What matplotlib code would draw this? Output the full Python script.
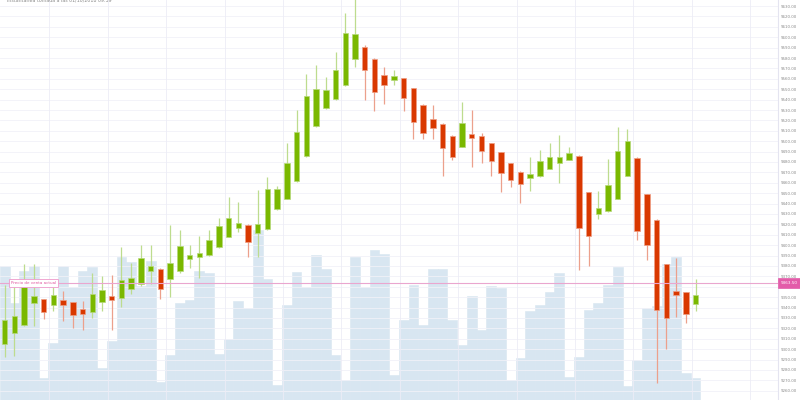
import numpy as np
import matplotlib.pyplot as plt

# velas (OHLC), una por columna
opens = [9305, 9316, 9323, 9344, 9348, 9342, 9347, 9345, 9338.5, 9336,
         9345, 9351, 9349, 9357.5, 9363, 9375.5, 9377.5, 9367.5, 9375.5, 9387,
         9389, 9390.5, 9398, 9408, 9417, 9419.5, 9411.5, 9416, 9435, 9444.5,
         9462, 9486, 9514.5, 9532, 9541, 9554, 9579, 9591, 9579.5, 9563.5,
         9558.5, 9560.5, 9551, 9535, 9521.5, 9517, 9505, 9494.5, 9506.5, 9505,
         9498, 9489.5, 9479, 9470.5, 9465, 9466.5, 9473.5, 9479, 9482, 9486,
         9451, 9430, 9432.5, 9444.5, 9467, 9484, 9449, 9424.5, 9381.5, 9356,
         9354.5, 9343.5]
highs = [9362, 9366, 9382, 9382, 9348.5, 9359.5, 9356, 9345.5, 9346, 9373.5,
         9370, 9371.5, 9398.5, 9383, 9400, 9400, 9378, 9419.5, 9414.5, 9400,
         9409, 9414.5, 9426.5, 9446, 9442, 9420, 9453.5, 9466, 9457, 9498,
         9530, 9564.5, 9573.5, 9561.5, 9586, 9623.5, 9640, 9592.5, 9580, 9571,
         9568, 9561, 9551.5, 9535.5, 9535, 9517.5, 9505.5, 9537.5, 9530, 9508,
         9498.5, 9490, 9479.5, 9471, 9484.5, 9491.5, 9498, 9506, 9494.5, 9486.5,
         9451.5, 9452.5, 9483, 9514, 9512, 9484.5, 9449.5, 9425, 9382, 9387.5,
         9355, 9367.5]
lows = [9292, 9293, 9322, 9322, 9329, 9337, 9327, 9320, 9318, 9330,
        9337, 9318.5, 9341, 9353, 9361, 9363, 9348, 9350.5, 9373, 9378,
        9368.5, 9390, 9397, 9407.5, 9413, 9389, 9389, 9415, 9434, 9444,
        9461, 9485, 9514, 9531, 9540, 9553, 9571.5, 9539.5, 9529.5, 9536,
        9554, 9529.5, 9502.5, 9502.5, 9502.5, 9467, 9482, 9494, 9475.5, 9479.5,
        9467, 9451.5, 9455.5, 9441, 9452.5, 9466, 9473, 9459.5, 9482, 9376,
        9380, 9425, 9432, 9444, 9466.5, 9405, 9385.5, 9267.5, 9300.5, 9331,
        9325, 9337]
closes = [9328, 9332, 9360, 9351, 9336, 9352, 9342.5, 9332.5, 9333.5, 9353.5,
          9357, 9347.5, 9366.5, 9368.5, 9387.5, 9380, 9358, 9383, 9399, 9390.5,
          9392.5, 9404.5, 9418, 9426, 9421.5, 9403, 9420.5, 9454.5, 9454.5, 9479.5,
          9509, 9543, 9550, 9549, 9568.5, 9604, 9603, 9568, 9547.5, 9554,
          9562.5, 9542, 9518, 9507.5, 9512.5, 9493, 9485, 9517.5, 9503, 9490.5,
          9480.5, 9469, 9462.5, 9459, 9468.5, 9480.5, 9485, 9485, 9488.5, 9416.5,
          9409, 9435.5, 9457.5, 9490.5, 9500, 9413.5, 9400, 9337.5, 9330, 9352.5,
          9333.5, 9352]
volume = [134, 97, 129, 134, 22, 57, 134, 113, 129, 133,
          32, 59, 143, 138, 114, 139, 18, 45, 97, 100,
          129, 127, 46, 61, 99, 92, 170, 121, 15, 95,
          128, 113, 145, 131, 45, 20, 143, 113, 150, 146,
          25, 80, 115, 75, 131, 131, 80, 55, 104, 70,
          114, 112, 20, 42, 89, 95, 108, 127, 23, 43,
          90, 97, 115, 133, 14, 40, 92, 94, 136, 143,
          27, 22]
precio_actual = 9363.50
titulo = "Instantánea tomada a las 01/10/2018 09:39"

verde, rojo = "#7ab800", "#d93800"
verde_mecha, rojo_mecha = "#bddc8e", "#eca08c"

o = np.array(opens); c = np.array(closes)
h = np.array(highs); l = np.array(lows)
x = np.arange(len(o))
sube = c >= o

fig = plt.figure(figsize=(8, 4), dpi=100)
ax_vol = fig.add_axes([0, 0, 778 / 800, 1])
ax = ax_vol.twinx()

# volumen de fondo
ax_vol.bar(x, volume, width=1.0, color="#d8e6f1", edgecolor="#d8e6f1", linewidth=0.4)
ax_vol.set_ylim(0, 400)
ax_vol.set_yticks([])
ax_vol.set_xticks([])
for s in ax_vol.spines.values():
    s.set_visible(False)

# rejilla
ax.set_axisbelow(True)
ax.set_yticks(np.arange(9250, 9640, 10))
ax.grid(axis="y", color="#f1f1f8", lw=0.6)
for gx in np.arange(4.6, 80, 6):
    ax.axvline(gx, color="#ececf6", lw=0.6, zorder=0.6)

# velas
ax.vlines(x[sube], l[sube], h[sube], color=verde_mecha, lw=0.9, zorder=2)
ax.vlines(x[~sube], l[~sube], h[~sube], color=rojo_mecha, lw=0.9, zorder=2)
cuerpo = np.maximum(np.abs(c - o), 0.8)
ax.bar(x[sube], cuerpo[sube], bottom=o[sube], width=0.56, color=verde,
       edgecolor="#b5d97a", lw=0.5, zorder=3)
ax.bar(x[~sube], cuerpo[~sube], bottom=c[~sube], width=0.56, color=rojo,
       edgecolor="#ee9f85", lw=0.5, zorder=3)

# precio actual
ax.axhline(precio_actual, color="#eaa6cf", lw=0.8, zorder=4)
ax.text(6.5 / 9.73, precio_actual, "Precio de venta actual", fontsize=2.9,
        color="#e0559f", va="center", ha="left", zorder=5,
        bbox=dict(boxstyle="square,pad=0.45", fc="white", ec="#ee9acb", lw=0.6))
ax.annotate(f"{precio_actual:.2f}", xy=(1, precio_actual), xycoords=("axes fraction", "data"),
            xytext=(2.2, 0), textcoords="offset points", fontsize=3.0, color="white",
            va="center", ha="left", annotation_clip=False, zorder=6,
            bbox=dict(boxstyle="square,pad=0.7", fc="#e35ca9", ec="#e35ca9", lw=0.5))

ax.set_xlim(-0.483, 79.47)
ax.set_ylim(9251.1, 9635.8)
ax.set_yticklabels([f"{v:.2f}" for v in ax.get_yticks()], fontsize=2.9, color="#8a8a8a")
ax.tick_params(axis="y", length=0, pad=2.2)
for k, s in ax.spines.items():
    s.set_visible(k == "right")
ax.spines["right"].set_color("#e4e4f0")
ax.spines["right"].set_linewidth(0.8)

fig.text(7 / 800, 1 - 2.5 / 400, titulo, fontsize=3.4, color="#8a8a8a",
         ha="left", va="baseline")

fig.savefig("out.png", dpi=100)
